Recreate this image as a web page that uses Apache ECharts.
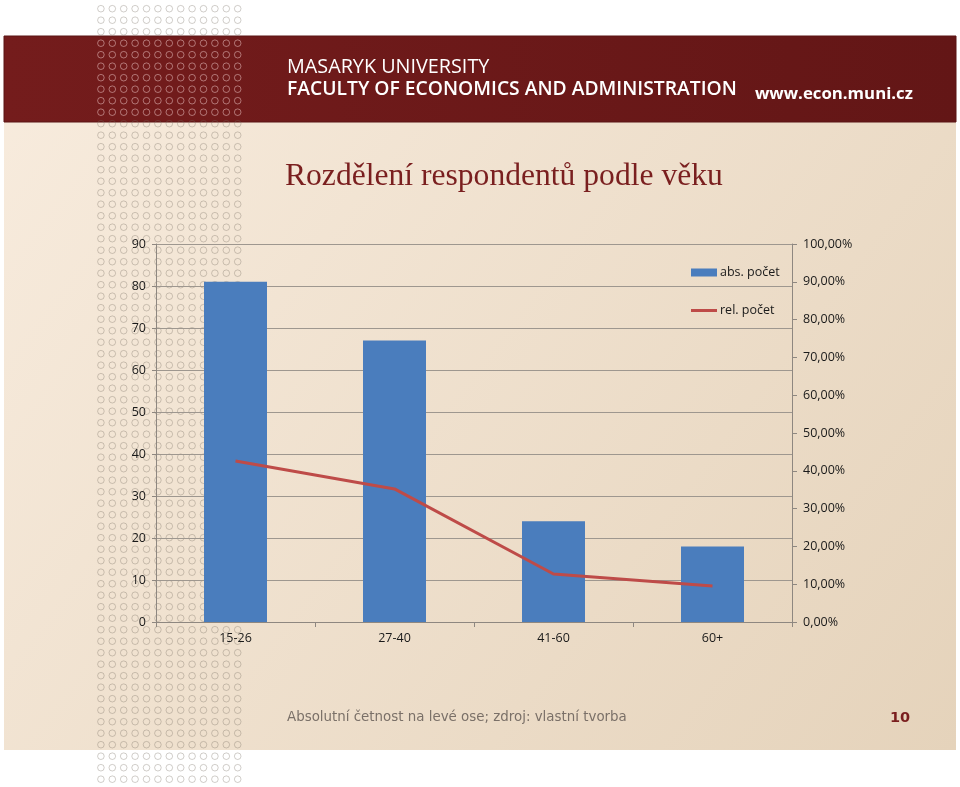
<!DOCTYPE html>
<html>
<head>
<meta charset="utf-8">
<script src="https://cdn.jsdelivr.net/npm/echarts@6/dist/echarts.min.js"></script>
<style>
html,body{margin:0;padding:0;background:#fff;}
#main{width:960px;height:787px;}
</style>
</head>
<body>
<div id="main"></div>
<script>
// ---- data ----
var categories = ['15-26', '27-40', '41-60', '60+'];
var absCounts = [81, 67, 24, 18];
var relShares = [0.426, 0.352, 0.127, 0.095];
var seriesNames = ['abs. počet', 'rel. počet'];
var titleText = 'Rozdělení respondentů podle věku';
var footerText = 'Absolutní četnost na levé ose; zdroj: vlastní tvorba';
var pageNumber = '10';

var chart = echarts.init(document.getElementById('main'));

var graphics = [];
// slide background
graphics.push({
  type: 'rect', z: -20, silent: true,
  shape: {x: 4, y: 36, width: 952, height: 714},
  style: {fill: new echarts.graphic.LinearGradient(0, 0, 1, 1, [
    {offset: 0, color: '#f8ecde'},
    {offset: 1, color: '#e5d3bb'}
  ])}
});
// banner
graphics.push({
  type: 'rect', z: -19, silent: true,
  shape: {x: 4, y: 36, width: 952, height: 86},
  style: {fill: new echarts.graphic.LinearGradient(0, 0, 1, 0, [
    {offset: 0, color: '#741c1c'},
    {offset: 1, color: '#631616'}
  ]), stroke: '#5a1414', lineWidth: 1}
});
// dot pattern
for (var i = 0; i < 13; i++) {
  for (var y = 8.7; y < 787; y += 11.5) {
    var cx = 100.9 + i * 11.4;
    var inBanner = y > 36 && y < 122;
    graphics.push({
      type: 'circle', z: -18, silent: true,
      shape: {cx: cx, cy: y, r: 3.3},
      style: {fill: 'none', stroke: inBanner ? 'rgba(255,225,225,0.45)' : 'rgba(115,105,95,0.33)', lineWidth: 1}
    });
  }
}
// header texts
graphics.push({
  type: 'text', z: 10, silent: true, left: 287, top: 57,
  style: {text: 'MASARYK UNIVERSITY', fill: '#ffffff', font: '400 19.8px "Open Sans"'}
});
graphics.push({
  type: 'text', z: 10, silent: true, left: 287, top: 80,
  style: {text: 'FACULTY OF ECONOMICS AND ADMINISTRATION', fill: '#ffffff', font: '600 19.3px "Open Sans"'}
});
graphics.push({
  type: 'text', z: 10, silent: true, left: 755, top: 86,
  style: {text: 'www.econ.muni.cz', fill: '#ffffff', font: '700 16.8px "Open Sans"'}
});
// title
graphics.push({
  type: 'text', z: 10, silent: true, left: 285, top: 161,
  style: {text: titleText, fill: '#7a1f1f', font: '31.6px "Liberation Serif"'}
});
// footer
graphics.push({
  type: 'text', z: 10, silent: true, left: 287, top: 711,
  style: {text: footerText, fill: '#7a7068', font: '13.4px "DejaVu Sans"'}
});
graphics.push({
  type: 'text', z: 10, silent: true, left: 890, top: 711,
  style: {text: pageNumber, fill: '#7a1e1e', font: '700 14.5px "DejaVu Sans"'}
});

var axisColor = '#8e8780';
var labelStyle = {color: '#1a1a1a', fontFamily: 'Open Sans', fontSize: 12.5};

chart.setOption({
  backgroundColor: '#ffffff',
  animation: false,
  graphic: {elements: graphics},
  grid: {left: 156, right: 168, top: 244, bottom: 165},
  legend: {
    orient: 'vertical', left: 686, top: 261,
    itemWidth: 26, itemHeight: 8, itemGap: 25,
    symbolKeepAspect: true,
    textStyle: {color: '#1a1a1a', fontFamily: 'Open Sans', fontSize: 12.5, padding: [0, 0, 0, -2]},
    data: [
      {name: seriesNames[0], icon: 'rect'},
      {name: seriesNames[1], icon: 'path://M0,0L26,0L26,3L0,3Z', itemStyle: {color: '#be4b48'}}
    ]
  },
  xAxis: {
    type: 'category', data: categories,
    axisLine: {lineStyle: {color: axisColor}},
    axisTick: {show: true, length: 5, lineStyle: {color: axisColor}},
    axisLabel: Object.assign({margin: 10}, labelStyle)
  },
  yAxis: [{
    type: 'value', min: 0, max: 90, interval: 10,
    axisLine: {show: true, lineStyle: {color: axisColor}},
    axisTick: {show: true, length: 4, lineStyle: {color: axisColor}},
    splitLine: {lineStyle: {color: '#9e978f'}},
    axisLabel: Object.assign({margin: 10}, labelStyle)
  }, {
    type: 'value', min: 0, max: 1, interval: 0.1, position: 'right',
    axisLine: {show: true, lineStyle: {color: axisColor}},
    axisTick: {show: true, length: 5, lineStyle: {color: axisColor}},
    splitLine: {show: false},
    axisLabel: Object.assign({margin: 11, formatter: function (v) {
      return (v * 100).toFixed(2).replace('.', ',') + '%';
    }}, labelStyle)
  }],
  series: [{
    name: seriesNames[0], type: 'bar', data: absCounts,
    barWidth: 63,
    itemStyle: {color: '#4a7dbd'}
  }, {
    name: seriesNames[1], type: 'line', yAxisIndex: 1, data: relShares,
    symbol: 'none',
    lineStyle: {color: '#be4b48', width: 3},
    itemStyle: {color: '#be4b48'}
  }]
});
</script>
</body>
</html>
